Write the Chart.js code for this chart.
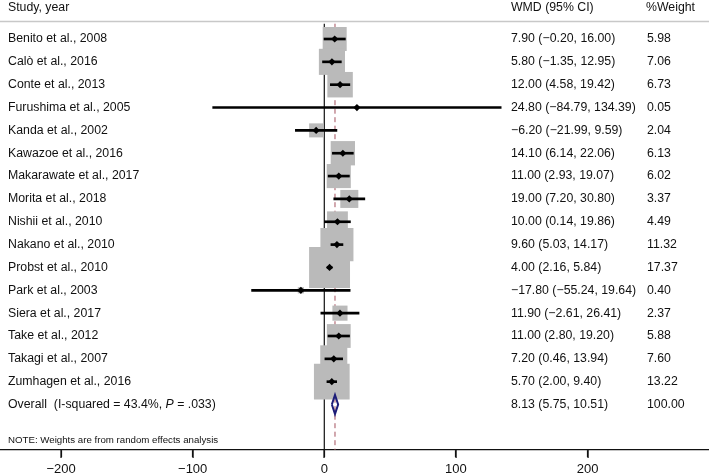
<!DOCTYPE html>
<html>
<head>
<meta charset="utf-8">
<script src="https://cdn.jsdelivr.net/npm/chart.js@4.4.1/dist/chart.umd.min.js"></script>
<style>
  html, body { margin: 0; padding: 0; background: #fff; }
  #wrap { width: 709px; height: 475px; position: relative; }
</style>
</head>
<body>
<div id="wrap"><canvas id="forest"></canvas></div>
<script>
// study data
const studies = [
  "Benito et al., 2008", "Calò et al., 2016", "Conte et al., 2013", "Furushima et al., 2005",
  "Kanda et al., 2002", "Kawazoe et al., 2016", "Makarawate et al., 2017", "Morita et al., 2018",
  "Nishii et al., 2010", "Nakano et al., 2010", "Probst et al., 2010", "Park et al., 2003",
  "Siera et al., 2017", "Take et al., 2012", "Takagi et al., 2007", "Zumhagen et al., 2016"
];
const wmd = [7.90, 5.80, 12.00, 24.80, -6.20, 14.10, 11.00, 19.00, 10.00, 9.60, 4.00, -17.80, 11.90, 11.00, 7.20, 5.70];
const ciLow = [-0.20, -1.35, 4.58, -84.79, -21.99, 6.14, 2.93, 7.20, 0.14, 5.03, 2.16, -55.24, -2.61, 2.80, 0.46, 2.00];
const ciHigh = [16.00, 12.95, 19.42, 134.39, 9.59, 22.06, 19.07, 30.80, 19.86, 14.17, 5.84, 19.64, 26.41, 19.20, 13.94, 9.40];
const weights = [5.98, 7.06, 6.73, 0.05, 2.04, 6.13, 6.02, 3.37, 4.49, 11.32, 17.37, 0.40, 2.37, 5.88, 7.60, 13.22];
const overallEst = 8.13;
const overallLow = 5.75;
const overallHigh = 10.51;
const overallWeight = 100.00;
const overallLabel = ["Overall  (I-squared = 43.4%, ", "P", " = .033)"];
const xTicks = [-200, -100, 0, 100, 200];

const rows = studies.map((s, i) => i + 1);
const overallRow = studies.length + 1;

const fmt = v => v.toFixed(2).replace("-", "\u2212");
const FONT = '"Liberation Sans", Arial, Helvetica, sans-serif';
const TXT = "12.3px " + FONT;

// text columns, header rule, axis tick marks
const forestText = {
  id: "forestText",
  beforeDatasetsDraw(chart) {
    const { ctx, scales: { y } } = chart;
    const yy = Math.round(y.getPixelForValue(0.21)) + 0.5;
    ctx.save();
    ctx.strokeStyle = "#c8c8c8";
    ctx.lineWidth = 1.5;
    ctx.beginPath();
    ctx.moveTo(0, yy);
    ctx.lineTo(709, yy);
    ctx.stroke();
    ctx.restore();
  },
  afterDraw(chart) {
    const { ctx, scales: { x, y } } = chart;
    ctx.save();
    ctx.fillStyle = "#111";
    const axisY = chart.chartArea.bottom;
    xTicks.forEach(v => {
      const px = Math.round(x.getPixelForValue(v));
      ctx.fillRect(px - 0.6, axisY, 1.3, 8);
    });
    ctx.textBaseline = "middle";
    ctx.font = TXT;
    const hy = y.getPixelForValue(-0.36);
    ctx.fillText("Study, year", 8, hy);
    ctx.fillText("WMD (95% CI)", 511, hy);
    ctx.fillText("%Weight", 646, hy);
    studies.forEach((s, i) => {
      const py = y.getPixelForValue(rows[i]);
      ctx.fillText(s, 8, py);
      ctx.fillText(fmt(wmd[i]) + " (" + fmt(ciLow[i]) + ", " + fmt(ciHigh[i]) + ")", 511, py);
      ctx.fillText(weights[i].toFixed(2), 647, py);
    });
    const oy = y.getPixelForValue(overallRow);
    let tx = 8;
    ctx.fillText(overallLabel[0], tx, oy);
    tx += ctx.measureText(overallLabel[0]).width;
    ctx.font = "italic " + TXT;
    ctx.fillText(overallLabel[1], tx, oy);
    tx += ctx.measureText(overallLabel[1]).width;
    ctx.font = TXT;
    ctx.fillText(overallLabel[2], tx, oy);
    ctx.fillText(fmt(overallEst) + " (" + fmt(overallLow) + ", " + fmt(overallHigh) + ")", 511, oy);
    ctx.fillText(overallWeight.toFixed(2), 647, oy);
    ctx.font = "9.7px " + FONT;
    ctx.fillText("NOTE: Weights are from random effects analysis", 8, y.getPixelForValue(18.55));
    ctx.restore();
  }
};

const yTop = 0.33;
const yMin = -0.707;
const yMax = 18.99;
const halfDiamond = 0.42;

new Chart(document.getElementById("forest"), {
  type: "scatter",
  data: {
    datasets: [
      {
        // point estimates
        type: "scatter",
        data: wmd.map((v, i) => ({ x: v, y: rows[i] })),
        pointStyle: "rectRot",
        pointRadius: 3.6,
        pointBorderWidth: 0,
        backgroundColor: "#000",
        order: 1
      },
      {
        // pooled estimate diamond
        type: "line",
        data: [
          { x: overallLow, y: overallRow },
          { x: overallEst, y: overallRow - halfDiamond },
          { x: overallHigh, y: overallRow },
          { x: overallEst, y: overallRow + halfDiamond },
          { x: overallLow, y: overallRow }
        ],
        borderColor: "#1c1c78",
        borderWidth: 2,
        pointRadius: 0,
        fill: false,
        tension: 0,
        order: 2
      },
      {
        // confidence intervals
        type: "bar",
        indexAxis: "y",
        data: rows.map((r, i) => ({ y: r, x: [ciLow[i], ciHigh[i]] })),
        backgroundColor: "#000",
        borderWidth: 0,
        barThickness: 2,
        grouped: false,
        order: 3
      },
      {
        // weight boxes
        type: "scatter",
        data: wmd.map((v, i) => ({ x: v, y: rows[i] })),
        pointStyle: "rect",
        pointRadius: ctx => Math.sqrt(weights[ctx.dataIndex] || 0) * 9.82 / Math.SQRT2,
        pointBorderWidth: 0,
        backgroundColor: "#bababa",
        order: 4
      },
      {
        // overall effect line
        type: "line",
        data: [{ x: overallEst, y: yTop }, { x: overallEst, y: yMax }],
        borderColor: "#a3505e",
        borderWidth: 1,
        borderDash: [5, 3.5],
        pointRadius: 0,
        order: 5
      },
      {
        // no-effect line
        type: "line",
        data: [{ x: 0, y: yTop }, { x: 0, y: yMax }],
        borderColor: "#111",
        borderWidth: 1.2,
        pointRadius: 0,
        order: 6
      }
    ]
  },
  options: {
    responsive: true,
    maintainAspectRatio: false,
    animation: false,
    layout: { autoPadding: false, padding: 0 },
    plugins: { legend: { display: false }, tooltip: { enabled: false } },
    scales: {
      x: {
        type: "linear",
        min: -246.4,
        max: 292.3,
        offset: false,
        afterBuildTicks: scale => { scale.ticks = xTicks.map(v => ({ value: v })); },
        afterFit: scale => { scale.height = 25; },
        ticks: {
          color: "#111",
          font: { size: 13, family: FONT },
          padding: 5,
          maxRotation: 0,
          autoSkip: false,
          callback: v => String(v).replace("-", "\u2212")
        },
        grid: { drawOnChartArea: false, drawTicks: true, tickLength: 7, tickWidth: 1.2, tickColor: "#111", color: "#111" },
        border: { display: true, color: "#111", width: 1.2 }
      },
      y: {
        type: "linear",
        display: false,
        reverse: true,
        min: yMin,
        max: yMax,
        offset: false
      }
    }
  },
  plugins: [forestText]
});
</script>
</body>
</html>
